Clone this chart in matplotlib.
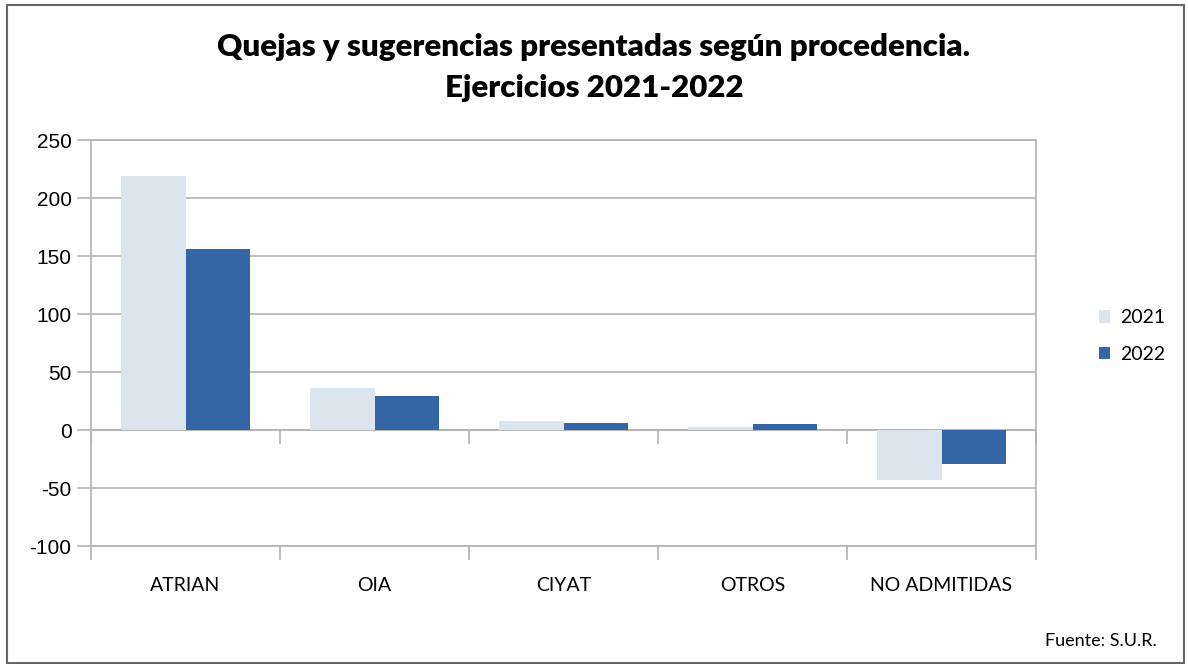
import numpy as np
import matplotlib
matplotlib.use("Agg")
import matplotlib.pyplot as plt
from matplotlib.patches import Rectangle

categories = ["ATRIAN", "OIA", "CIYAT", "OTROS", "NO ADMITIDAS"]
years = ["2021", "2022"]
vals_2021 = [219, 36, 8, 3, -43]
vals_2022 = [156, 29, 6, 5, -29]
y_ticks = [-100, -50, 0, 50, 100, 150, 200, 250]

col_2021 = "#dce4ee"
col_2022 = "#3465a4"
grid_col = "#b3b3b3"

fig = plt.figure(figsize=(11.88, 6.64), dpi=100)
ax = fig.add_axes([91 / 1188, 1 - 546 / 664, (1036 - 91) / 1188, (546 - 140) / 664])

x = np.arange(len(categories))
w = 0.34
ax.bar(x - w / 2, vals_2021, w, color=col_2021, label=years[0], zorder=3)
ax.bar(x + w / 2, vals_2022, w, color=col_2022, label=years[1], zorder=3)

ax.set_xlim(-0.5, len(categories) - 0.5)
ax.set_ylim(-100, 250)
ax.set_yticks(y_ticks)
ax.set_yticklabels([str(v) for v in y_ticks], fontsize=15, family="Liberation Sans")
ax.yaxis.grid(True, color=grid_col, linewidth=1.2, zorder=0)
ax.set_axisbelow(True)

# category labels at centres, tick marks at boundaries
ax.set_xticks(x)
ax.set_xticklabels(categories, fontsize=14, family="Lato")
ax.tick_params(axis="x", length=0, pad=22)
ax.set_xticks(np.arange(len(categories) + 1) - 0.5, minor=True)
ax.tick_params(axis="x", which="minor", length=10, color=grid_col, width=1.2)
ax.tick_params(axis="y", length=10, color=grid_col, width=1.2, pad=4)

for s in ax.spines.values():
    s.set_color(grid_col)
    s.set_linewidth(1.2)

# zero line with boundary ticks
sec = ax.secondary_xaxis(0, transform=ax.transData)
sec.set_xticks(np.arange(len(categories) + 1) - 0.5)
sec.set_xticklabels([])
sec.tick_params(length=10, color=grid_col, width=1.2)
sec.spines["bottom"].set_color(grid_col)
sec.spines["bottom"].set_linewidth(1.2)

leg = fig.legend(loc="center left", bbox_to_anchor=(1081 / 1188, 1 - 336 / 664),
                 frameon=False, prop={"family": "Lato", "size": 14},
                 handlelength=0.6, handleheight=0.6, handletextpad=0.5,
                 labelspacing=1.0)

fig.text(0.5, 1 - 47 / 664, "Quejas y sugerencias presentadas según procedencia.",
         ha="center", va="center", fontsize=22.5, fontweight="heavy", family="Lato")
fig.text(0.5, 1 - 88 / 664, "Ejercicios 2021-2022",
         ha="center", va="center", fontsize=22.5, fontweight="heavy", family="Lato")
fig.text(1157 / 1188, 1 - 641 / 664, "Fuente: S.U.R.", ha="right", va="center",
         fontsize=13, family="Lato")

fig.patches.append(Rectangle((7 / 1188, 1 / 664), 1177 / 1188, 658 / 664,
                             transform=fig.transFigure, fill=False,
                             edgecolor="#666666", linewidth=1.5))

plt.savefig("out.png", dpi=100)
